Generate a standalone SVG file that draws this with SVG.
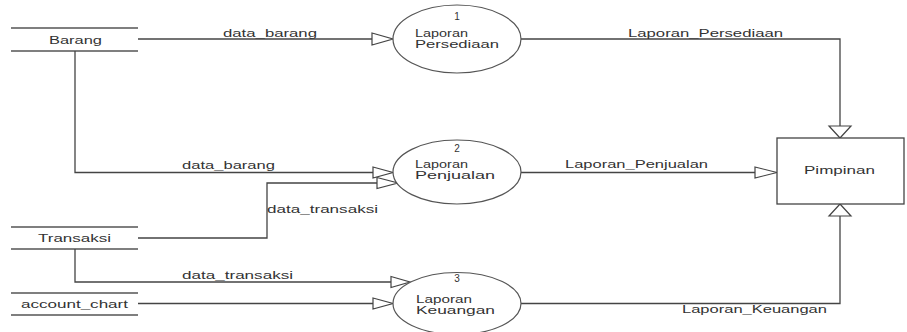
<svg xmlns="http://www.w3.org/2000/svg" width="907" height="332" viewBox="0 0 907 332">
  <style>
    text { font-family: "Liberation Sans", Arial, sans-serif; font-size: 10px; fill: #333; }
    .store line { stroke: #555; stroke-width: 1.3; }
    .proc ellipse { fill: #fff; stroke: #555; stroke-width: 1.2; }
    .ext rect { fill: #fff; stroke: #444; stroke-width: 1.3; }
    .flow { fill: none; stroke: #444; stroke-width: 1.3; }
    .head { fill: #fff; stroke: #444; stroke-width: 1.2; stroke-linejoin: miter; }
    .mid { text-anchor: middle; }
  </style>
  <rect width="907" height="332" fill="#fff"/>

  <!-- data stores -->
  <g id="store-barang" class="store">
    <line x1="11" y1="28" x2="138" y2="28"/>
    <line x1="11" y1="51" x2="138" y2="51"/>
    <text x="49" y="43.5" textLength="53" lengthAdjust="spacingAndGlyphs">Barang</text>
  </g>
  <g id="store-transaksi" class="store">
    <line x1="11" y1="227" x2="138" y2="227"/>
    <line x1="11" y1="249" x2="138" y2="249"/>
    <text x="38" y="242" textLength="73" lengthAdjust="spacingAndGlyphs">Transaksi</text>
  </g>
  <g id="store-account-chart" class="store">
    <line x1="11" y1="293" x2="138" y2="293"/>
    <line x1="11" y1="315" x2="138" y2="315"/>
    <text x="21" y="307.5" textLength="107" lengthAdjust="spacingAndGlyphs">account_chart</text>
  </g>

  <!-- connectors -->
  <g id="connectors">
    <polyline class="flow" points="138,39 372,39"/>
    <polyline class="flow" points="75,51 75,172.5 373,172.5"/>
    <polyline class="flow" points="138,238 267,238 267,183 377,183"/>
    <polyline class="flow" points="75,249 75,282 391,282"/>
    <polyline class="flow" points="138,303.5 373,303.5"/>
    <polyline class="flow" points="521,39 840,39 840,126"/>
    <polyline class="flow" points="521,172.5 755,172.5"/>
    <polyline class="flow" points="521,303.5 840,303.5 840,216"/>

    <polygon class="head" points="372,33 393,39 372,45"/>
    <polygon class="head" points="373,167 393,172.5 373,178"/>
    <polygon class="head" points="377,177.5 398,183 377,188.5"/>
    <polygon class="head" points="391,276.5 410,282 391,287.5"/>
    <polygon class="head" points="373,298 393,303.5 373,309"/>
    <polygon class="head" points="755,167 777,172.5 755,178"/>
    <polygon class="head" points="829,126 851,126 840,138"/>
    <polygon class="head" points="829,216 851,216 840,204"/>

    <text x="223" y="37" textLength="94" lengthAdjust="spacingAndGlyphs">data_barang</text>
    <text x="182" y="169" textLength="93" lengthAdjust="spacingAndGlyphs">data_barang</text>
    <text x="267" y="213" textLength="111" lengthAdjust="spacingAndGlyphs">data_transaksi</text>
    <text x="182" y="279" textLength="111" lengthAdjust="spacingAndGlyphs">data_transaksi</text>
    <text x="628" y="37" textLength="155" lengthAdjust="spacingAndGlyphs">Laporan_Persediaan</text>
    <text x="565" y="168" textLength="143" lengthAdjust="spacingAndGlyphs">Laporan_Penjualan</text>
    <text x="682" y="313" textLength="145" lengthAdjust="spacingAndGlyphs">Laporan_Keuangan</text>
  </g>

  <!-- processes -->
  <g id="proc-1" class="proc">
    <ellipse cx="457" cy="39" rx="64" ry="34"/>
    <text class="mid" x="457" y="20">1</text>
    <text x="415" y="37" textLength="53" lengthAdjust="spacingAndGlyphs">Laporan</text>
    <text x="415" y="48" textLength="84" lengthAdjust="spacingAndGlyphs">Persediaan</text>
  </g>
  <g id="proc-2" class="proc">
    <ellipse cx="457" cy="172" rx="64" ry="32"/>
    <text class="mid" x="457" y="152">2</text>
    <text x="415" y="168" textLength="53" lengthAdjust="spacingAndGlyphs">Laporan</text>
    <text x="415" y="179" textLength="80" lengthAdjust="spacingAndGlyphs">Penjualan</text>
  </g>
  <g id="proc-3" class="proc">
    <ellipse cx="457" cy="303.5" rx="64" ry="31"/>
    <text class="mid" x="457" y="282">3</text>
    <text x="416" y="303" textLength="56" lengthAdjust="spacingAndGlyphs">Laporan</text>
    <text x="416" y="314" textLength="79" lengthAdjust="spacingAndGlyphs">Keuangan</text>
  </g>

  <!-- external entity -->
  <g id="ext-pimpinan" class="ext">
    <rect x="777" y="138" width="127" height="66"/>
    <text x="804" y="173.5" textLength="71" lengthAdjust="spacingAndGlyphs">Pimpinan</text>
  </g>
</svg>
